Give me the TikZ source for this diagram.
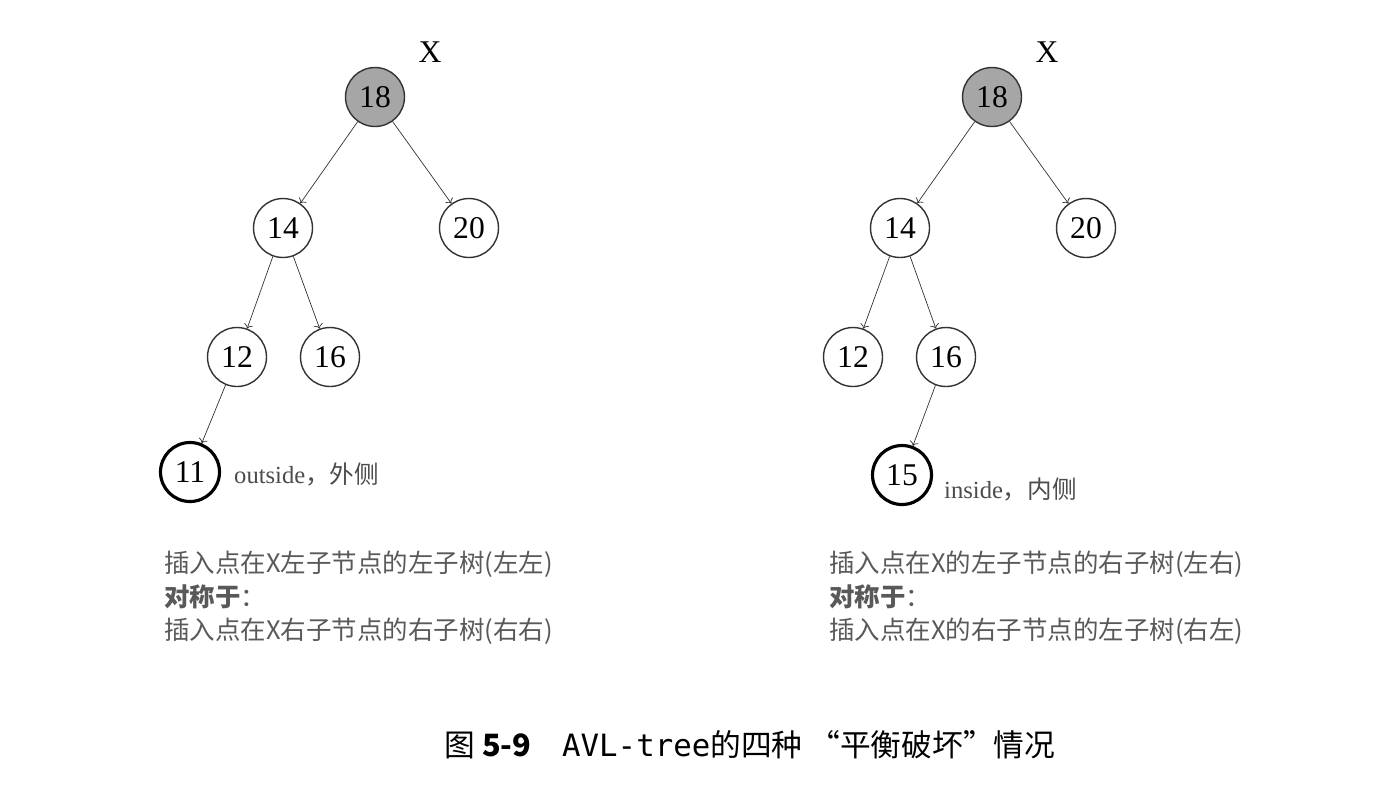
\documentclass[tikz,border=0pt]{standalone}
\usepackage{fontspec}
\setmainfont{Liberation Serif}
\newfontfamily\cjk{Noto Sans CJK SC}
\newfontfamily\monof{DejaVu Sans Mono}
\usetikzlibrary{arrows.meta}
\usetikzlibrary{positioning}
\tikzset{>=To}
\tikzstyle{avl} = [circle, draw=black!80, thick, minimum size=1.18cm, inner sep=0, font=\fontsize{18}{18}\selectfont]
\tikzstyle{note} = [anchor=west, align=left, text=black!65, font=\cjk\fontsize{14.5}{19}\selectfont]
\begin{document}
\begin{tikzpicture}[x=0.02cm, y=-0.02cm]
\useasboundingbox (0,0) rectangle (1381,785);
% left: outside
\node [avl, fill=black!35] (La) at (375,97) {18};
\node [avl] (Lb) at (283,228) {14};
\node [avl] (Lc) at (469,228) {20};
\node [avl] (Ld) at (237,357) {12};
\node [avl] (Le) at (330,357) {16};
\node [avl, draw=black, line width=1.8pt] (Lf) at (190,472) {11};
\node [font=\fontsize{18}{18}\selectfont] (LX) at (430,52) {X};
\node [anchor=west, text=black!70, font=\fontsize{14}{14}\selectfont] (Lt) at (228,474) {outside\cjk，外侧};
\draw [->, black!80] (La) to (Lb);
\draw [->, black!80] (La) to (Lc);
\draw [->, black!80] (Lb) to (Ld);
\draw [->, black!80] (Lb) to (Le);
\draw [->, black!80] (Ld) to (Lf);
\node [note] (Ln) at (158,598) {插入点在X左子节点的左子树(左左)\\\textbf{对称于}：\\插入点在X右子节点的右子树(右右)};
% right: inside
\node [avl, fill=black!35] (Ra) at (992,97) {18};
\node [avl] (Rb) at (900,228) {14};
\node [avl] (Rc) at (1086,228) {20};
\node [avl] (Rd) at (853,357) {12};
\node [avl] (Re) at (946,357) {16};
\node [avl, draw=black, line width=1.8pt] (Rf) at (902,475) {15};
\node [font=\fontsize{18}{18}\selectfont] (RX) at (1047,52) {X};
\node [anchor=west, text=black!70, font=\fontsize{14}{14}\selectfont] (Rt) at (938,489) {inside\cjk，内侧};
\draw [->, black!80] (Ra) to (Rb);
\draw [->, black!80] (Ra) to (Rc);
\draw [->, black!80] (Rb) to (Rd);
\draw [->, black!80] (Rb) to (Re);
\draw [->, black!80] (Re) to (Rf);
\node [note] (Rn) at (823,598) {插入点在X的左子节点的右子树(左右)\\\textbf{对称于}：\\插入点在X的右子节点的左子树(右左)};
% caption
\node [font=\cjk\fontsize{17.5}{17.5}\selectfont] (cap) at (750,745) {图 \textbf{5-9}\quad{\monof AVL-tree}的四种 “平衡破坏”情况};
\end{tikzpicture}
\end{document}
